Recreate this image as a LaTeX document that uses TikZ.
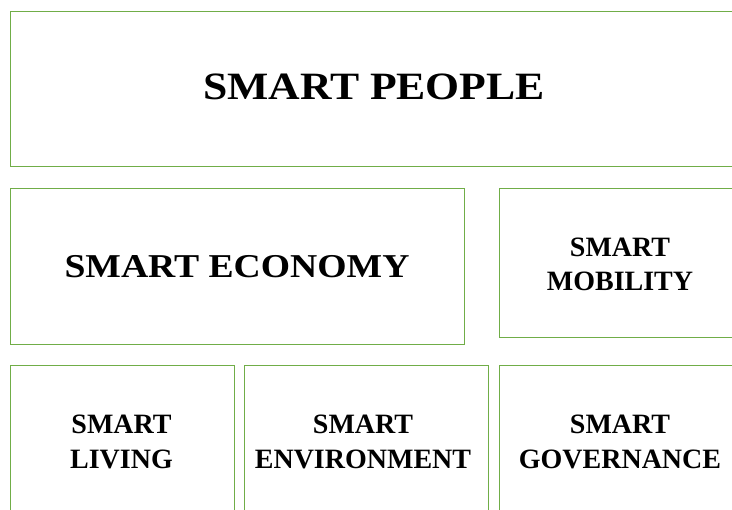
\documentclass[tikz,border=0pt]{standalone}
\usepackage{fontspec}
\setmainfont{Liberation Serif}
\definecolor{boxgreen}{RGB}{112,173,71}
% wide bold heading lettering
\newcommand{\widetitle}[1]{\scalebox{1.13}[1]{#1}}
\begin{document}
\begin{tikzpicture}[x=0.75pt,y=-0.75pt,
  pillar/.style={draw=boxgreen,line width=0.75pt,inner sep=0pt,anchor=north west},
  bigtxt/.style={font=\bfseries\fontsize{29}{35}\selectfont},
  midtxt/.style={font=\bfseries\fontsize{25}{30}\selectfont},
  smalltxt/.style={font=\bfseries\fontsize{21}{25.7}\selectfont,align=center}]
\useasboundingbox (0,0) rectangle (732,510);
\clip (0,0) rectangle (732,510);
% top row
\node[pillar,minimum width=728*0.75pt,minimum height=155.6*0.75pt] (people) at (10,10.7) {};
\node[bigtxt] (peopletxt) at (374,87) {\widetitle{SMART PEOPLE}};
% middle row
\node[pillar,minimum width=454*0.75pt,minimum height=155.7*0.75pt] (economy) at (10,188) {};
\node[midtxt] (economytxt) at (237,266.5) {\widetitle{SMART ECONOMY}};
\node[pillar,minimum width=241*0.75pt,minimum height=149*0.75pt] (mobility) at (499.3,188) {};
\node[smalltxt] (mobilitytxt) at (620,264.5) {SMART\\MOBILITY};
% bottom row
\node[pillar,minimum width=223.7*0.75pt,minimum height=160*0.75pt] (living) at (10,364.7) {};
\node[smalltxt] (livingtxt) at (121.5,442) {SMART\\LIVING};
\node[pillar,minimum width=243.7*0.75pt,minimum height=160*0.75pt] (environment) at (244.3,364.7) {};
\node[smalltxt] (environmenttxt) at (363,442) {SMART\\ENVIRONMENT};
\node[pillar,minimum width=241*0.75pt,minimum height=160*0.75pt] (governance) at (499.3,364.7) {};
\node[smalltxt] (governancetxt) at (620,442) {SMART\\GOVERNANCE};
\end{tikzpicture}
\end{document}
